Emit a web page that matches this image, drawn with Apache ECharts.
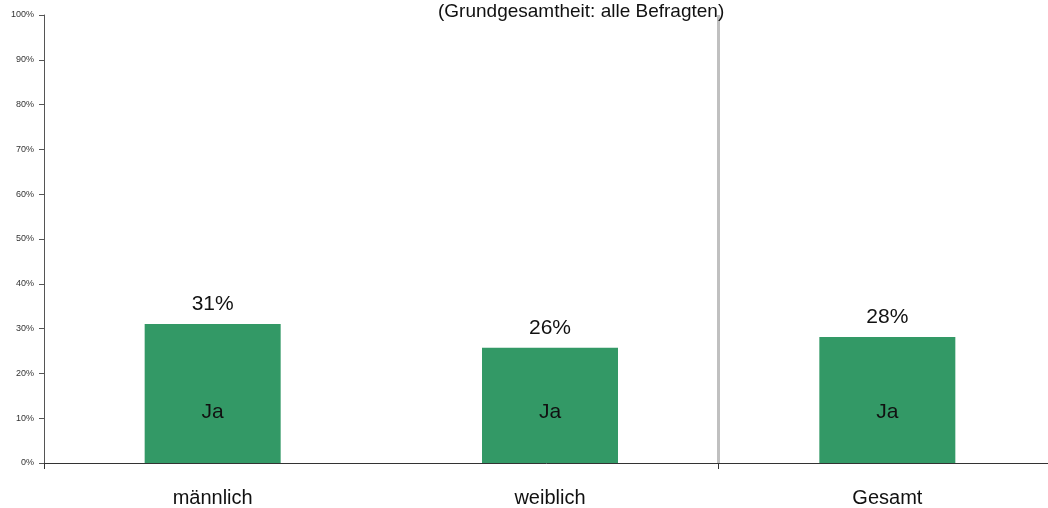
<!DOCTYPE html>
<html>
<head>
<meta charset="utf-8">
<script src="https://cdn.jsdelivr.net/npm/echarts@6/dist/echarts.min.js"></script>
<style>
  html, body { margin: 0; padding: 0; background: #fff; }
  #bar { width: 1048px; height: 508px; }
</style>
</head>
<body>
<div id="bar"></div>
<script>
var categories = ['männlich', 'weiblich', 'Gesamt'];
var jaValues = [31, 25.7, 28.1];
var yTicks = [0, 10, 20, 30, 40, 50, 60, 70, 80, 90, 100];
// Trennlinie zwischen Geschlecht und Gesamt (Kategoriegrenze)
var separatorAt = 2;

var font = "'Liberation Sans', Arial, sans-serif";

var myChart = echarts.init(document.getElementById('bar'));
var option = {
	animation: false,
	title: {
		text: '(Grundgesamtheit: alle Befragten)',
		left: 433,
		top: -3,
		textStyle: { fontFamily: font, fontSize: 19, fontWeight: 'normal', color: '#111' }
	},
	grid: { left: 44, top: 15, right: -8, bottom: 45, outerBoundsMode: 'none' },
	xAxis: [{
		type: 'category',
		data: categories,
		axisLine: { lineStyle: { color: '#333', width: 1 } },
		axisTick: {
			show: true,
			length: 6,
			lineStyle: { color: '#333' },
			interval: function (i) { return i === 0 || i === 2; }
		},
		splitLine: { show: false },
		axisLabel: { fontFamily: font, fontSize: 20, color: '#111', margin: 25 }
	}, {
		type: 'value',
		min: 0,
		max: categories.length,
		show: false,
		splitLine: { show: false }
	}],
	yAxis: {
		type: 'value',
		min: yTicks[0],
		max: yTicks[yTicks.length - 1],
		interval: 10,
		axisLine: { show: true, lineStyle: { color: '#555' } },
		axisTick: { show: true, length: 5, lineStyle: { color: '#555' } },
		splitLine: { show: false },
		axisLabel: { formatter: '{value}%', fontFamily: font, fontSize: 9, color: '#333', margin: 10 }
	},
	series: [
		{
			name: 'Ja',
			type: 'bar',
			barWidth: 136,
			data: jaValues,
			itemStyle: { color: '#339966' },
			label: {
				show: true,
				position: 'insideBottom',
				distance: 40,
				formatter: 'Ja',
				fontFamily: font,
				fontSize: 21,
				color: '#111'
			}
		},
		{
			name: 'Wert',
			type: 'bar',
			barWidth: 136,
			barGap: '-100%',
			data: jaValues,
			itemStyle: { color: 'rgba(0,0,0,0)' },
			label: {
				show: true,
				position: 'top',
				distance: 9,
				formatter: function (p) { return Math.round(p.value) + '%'; },
				fontFamily: font,
				fontSize: 21,
				color: '#111'
			}
		},
		{
			name: 'Trenner',
			type: 'line',
			xAxisIndex: 1,
			data: [],
			markLine: {
				silent: true,
				symbol: ['none', 'none'],
				label: { show: false },
				lineStyle: { color: '#c0c0c0', width: 3, type: 'solid' },
				data: [{ xAxis: separatorAt }]
			}
		}
	]
};
myChart.setOption(option);
</script>
</body>
</html>
